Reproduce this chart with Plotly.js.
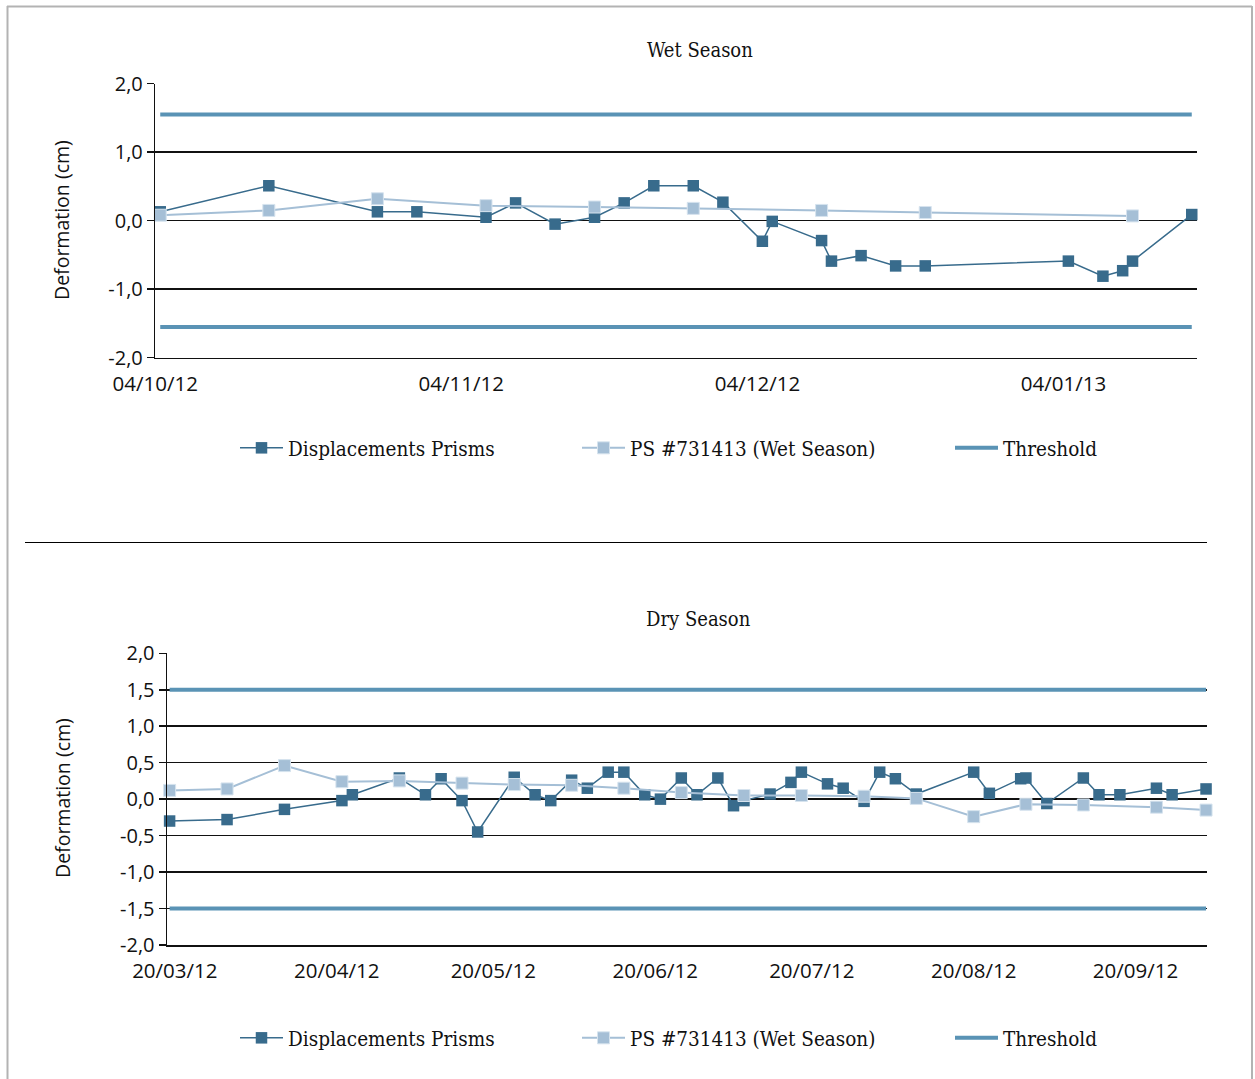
<!DOCTYPE html>
<html>
<head>
<meta charset="utf-8">
<script src="https://cdn.plot.ly/plotly-3.0.1.min.js"></script>
<style>
  html, body { margin: 0; padding: 0; background: #ffffff; }
  #chart { width: 1255px; height: 1079px; }
</style>
</head>
<body>
<div id="chart"></div>
<script>
// ---------------- DATA ----------------
const seriesNames = ['Displacements Prisms', 'PS #731413 (Wet Season)', 'Threshold'];
const chartTitles = ['Wet Season', 'Dry Season'];
const yTitle = 'Deformation (cm)';

// Wet season – Displacements Prisms
const wetPrismDates = ['2012-10-04 12:00', '2012-10-15 12:00', '2012-10-26 12:00', '2012-10-30 12:00',
  '2012-11-06 12:00', '2012-11-09 12:00', '2012-11-13 12:00', '2012-11-17 12:00', '2012-11-20 12:00',
  '2012-11-23 12:00', '2012-11-27 12:00', '2012-11-30 12:00', '2012-12-04 12:00', '2012-12-05 12:00',
  '2012-12-10 12:00', '2012-12-11 12:00', '2012-12-14 12:00', '2012-12-18', '2012-12-21',
  '2013-01-04 12:00', '2013-01-08', '2013-01-10', '2013-01-11', '2013-01-17'];
const wetPrismValues = [0.13, 0.51, 0.13, 0.13, 0.05, 0.26, -0.05, 0.05, 0.26, 0.51, 0.51, 0.27,
  -0.30, -0.01, -0.29, -0.59, -0.51, -0.66, -0.66, -0.59, -0.81, -0.73, -0.59, 0.09];

// Wet season – PS #731413
const wetPsDates = ['2012-10-04 12:00', '2012-10-15 12:00', '2012-10-26 12:00', '2012-11-06 12:00',
  '2012-11-17 12:00', '2012-11-27 12:00', '2012-12-10 12:00', '2012-12-21', '2013-01-11'];
const wetPsValues = [0.08, 0.15, 0.32, 0.22, 0.20, 0.18, 0.15, 0.12, 0.07];

const wetThreshold = 1.55;
const wetTickDates = ['2012-10-04', '2012-11-04', '2012-12-04', '2013-01-04'];
const wetTickLabels = ['04/10/12', '04/11/12', '04/12/12', '04/01/13'];
const wetRange = ['2012-10-04', '2013-01-17 12:00'];
const wetYTickValues = [-2, -1, 0, 1, 2];
const wetYTickLabels = ['-2,0', '-1,0', '0,0', '1,0', '2,0'];

// Dry season – Displacements Prisms
const dryPrismDates = ['2012-03-19', '2012-03-30', '2012-04-10', '2012-04-21', '2012-04-23', '2012-05-02',
  '2012-05-07', '2012-05-10', '2012-05-14', '2012-05-17', '2012-05-24', '2012-05-28', '2012-05-31',
  '2012-06-04', '2012-06-07', '2012-06-11', '2012-06-14', '2012-06-18', '2012-06-21', '2012-06-25',
  '2012-06-28', '2012-07-02', '2012-07-05', '2012-07-07', '2012-07-12', '2012-07-16', '2012-07-18',
  '2012-07-23', '2012-07-26', '2012-07-30', '2012-08-02', '2012-08-05', '2012-08-09', '2012-08-20',
  '2012-08-23', '2012-08-29', '2012-08-30', '2012-09-03', '2012-09-10', '2012-09-13', '2012-09-17',
  '2012-09-24', '2012-09-27', '2012-10-03 12:00'];
const dryPrismValues = [-0.30, -0.28, -0.14, -0.02, 0.06, 0.29, 0.06, 0.28, -0.02, -0.45, 0.30, 0.06,
  -0.02, 0.26, 0.15, 0.37, 0.37, 0.06, 0.00, 0.29, 0.06, 0.29, -0.09, -0.02, 0.07, 0.23, 0.37, 0.21,
  0.15, -0.03, 0.37, 0.28, 0.07, 0.37, 0.08, 0.28, 0.29, -0.06, 0.29, 0.06, 0.06, 0.15, 0.06, 0.14];

// Dry season – PS #731413
const dryPsDates = ['2012-03-19', '2012-03-30', '2012-04-10', '2012-04-21', '2012-05-02', '2012-05-14',
  '2012-05-24', '2012-06-04', '2012-06-14', '2012-06-25', '2012-07-07', '2012-07-18', '2012-07-30',
  '2012-08-09', '2012-08-20', '2012-08-30', '2012-09-10', '2012-09-24', '2012-10-03 12:00'];
const dryPsValues = [0.12, 0.14, 0.46, 0.24, 0.25, 0.22, 0.20, 0.19, 0.15, 0.09, 0.05, 0.05, 0.04,
  0.01, -0.24, -0.07, -0.08, -0.11, -0.15];

const dryThreshold = 1.5;
const dryTickDates = ['2012-03-20', '2012-04-20', '2012-05-20', '2012-06-20', '2012-07-20', '2012-08-20', '2012-09-20'];
const dryTickLabels = ['20/03/12', '20/04/12', '20/05/12', '20/06/12', '20/07/12', '20/08/12', '20/09/12'];
const dryRange = ['2012-03-18 12:00', '2012-10-03 15:00'];
const dryYTickValues = [-2, -1.5, -1, -0.5, 0, 0.5, 1, 1.5, 2];
const dryYTickLabels = ['-2,0', '-1,5', '-1,0', '-0,5', '0,0', '0,5', '1,0', '1,5', '2,0'];

// ---------------- STYLE ----------------
const W = 1255, H = 1079;
const px = v => v / W;
const py = v => 1 - v / H;

const DARK = '#386b8c';
const LIGHT = '#a5bfd6';
const THRESH = '#5a93b5';
const INK = '#111111';
const SANS = 'Open Sans, Noto Sans, sans-serif';
const SERIF = 'DejaVu Serif Condensed, DejaVu Serif, serif';

function thresholdTrace(dates, t, xa, ya, lg) {
  const a = dates[0], b = dates[dates.length - 1];
  return {
    x: [a, b, null, a, b], y: [t, t, null, -t, -t],
    xaxis: xa, yaxis: ya, legend: lg, name: seriesNames[2],
    mode: 'lines', line: { color: THRESH, width: 4 }, connectgaps: false,
    hoverinfo: 'skip', cliponaxis: false, legendwidth: 120
  };
}
function prismTrace(x, y, xa, ya, lg) {
  return {
    x: x, y: y, xaxis: xa, yaxis: ya, legend: lg, name: seriesNames[0],
    mode: 'lines+markers', line: { color: DARK, width: 1.5 },
    marker: { symbol: 'square', size: 11.5, color: DARK, line: { width: 0 } },
    cliponaxis: false, legendwidth: 284
  };
}
function psTrace(x, y, xa, ya, lg) {
  return {
    x: x, y: y, xaxis: xa, yaxis: ya, legend: lg, name: seriesNames[1],
    mode: 'lines+markers', line: { color: LIGHT, width: 2 },
    marker: { symbol: 'square', size: 12, color: LIGHT, line: { width: 1, color: '#d6e3ee' } },
    cliponaxis: false, legendwidth: 315
  };
}

const data = [
  prismTrace(wetPrismDates, wetPrismValues, 'x', 'y', 'legend'),
  psTrace(wetPsDates, wetPsValues, 'x', 'y', 'legend'),
  thresholdTrace(wetPrismDates, wetThreshold, 'x', 'y', 'legend'),
  prismTrace(dryPrismDates, dryPrismValues, 'x2', 'y2', 'legend2'),
  psTrace(dryPsDates, dryPsValues, 'x2', 'y2', 'legend2'),
  thresholdTrace(dryPrismDates, dryThreshold, 'x2', 'y2', 'legend2')
];

function xAxis(domain, range, tv, tt, anchor) {
  return {
    domain: domain, range: range, type: 'date', anchor: anchor,
    tickmode: 'array', tickvals: tv, ticktext: tt,
    ticks: 'outside', ticklen: 7, tickcolor: 'rgba(0,0,0,0)',
    showgrid: false, zeroline: false,
    showline: true, linecolor: INK, linewidth: 1.5,
    tickfont: { family: SANS, size: 20.5, color: INK },
    fixedrange: true
  };
}
function yAxis(domain, tv, tt, anchor) {
  return {
    domain: domain, range: [-2, 2], anchor: anchor,
    tickmode: 'array', tickvals: tv, ticktext: tt,
    ticks: 'outside', ticklen: 7, tickcolor: INK, tickwidth: 1.5,
    showgrid: true, gridcolor: INK, gridwidth: 1.5,
    zeroline: false, showline: true, linecolor: INK, linewidth: 1.5,
    tickfont: { family: SANS, size: 20, color: INK },
    ticklabelstandoff: 0,
    fixedrange: true
  };
}

const legendBase = {
  orientation: 'h', xanchor: 'left', yanchor: 'middle',
  font: { family: SERIF, size: 20.5, color: INK },
  bgcolor: 'rgba(0,0,0,0)', borderwidth: 0, traceorder: 'normal',
  itemwidth: 43
};

const layout = {
  width: W, height: H,
  margin: { l: 0, r: 0, t: 0, b: 0, pad: 0 },
  paper_bgcolor: '#ffffff', plot_bgcolor: '#ffffff',
  separators: ',.',
  showlegend: true,
  xaxis: xAxis([px(155.3), px(1196.7)], wetRange, wetTickDates, wetTickLabels, 'y'),
  yaxis: yAxis([py(357.7), py(83.7)], wetYTickValues, wetYTickLabels, 'x'),
  xaxis2: xAxis([px(167), px(1206.7)], dryRange, dryTickDates, dryTickLabels, 'y2'),
  yaxis2: yAxis([py(945), py(653.3)], dryYTickValues, dryYTickLabels, 'x2'),
  legend: Object.assign({}, legendBase, { x: px(235), y: py(448) }),
  legend2: Object.assign({}, legendBase, { x: px(235), y: py(1038) }),
  annotations: [
    { text: chartTitles[0], xref: 'paper', yref: 'paper', x: px(700), y: py(50), showarrow: false,
      xanchor: 'center', yanchor: 'middle', font: { family: SERIF, size: 20, color: INK } },
    { text: chartTitles[1], xref: 'paper', yref: 'paper', x: px(698), y: py(619), showarrow: false,
      xanchor: 'center', yanchor: 'middle', font: { family: SERIF, size: 20, color: INK } },
    { text: yTitle, xref: 'paper', yref: 'paper', x: px(62), y: py(220), showarrow: false, textangle: -90,
      xanchor: 'center', yanchor: 'middle', font: { family: SANS, size: 19.5, color: INK } },
    { text: yTitle, xref: 'paper', yref: 'paper', x: px(62), y: py(798), showarrow: false, textangle: -90,
      xanchor: 'center', yanchor: 'middle', font: { family: SANS, size: 19.5, color: INK } }
  ],
  shapes: [
    // outer frame (top, left, right)
    { type: 'line', xref: 'paper', yref: 'paper', x0: px(7), x1: px(1252), y0: py(6.5), y1: py(6.5), line: { color: '#b3b3b3', width: 2 } },
    { type: 'line', xref: 'paper', yref: 'paper', x0: px(7.5), x1: px(7.5), y0: py(6), y1: py(1085), line: { color: '#b3b3b3', width: 2 } },
    { type: 'line', xref: 'paper', yref: 'paper', x0: px(1252), x1: px(1252), y0: py(6), y1: py(1085), line: { color: '#b3b3b3', width: 2 } },
    // separator between the two charts
    { type: 'line', xref: 'paper', yref: 'paper', x0: px(25), x1: px(1207), y0: py(542.5), y1: py(542.5), line: { color: '#000000', width: 1 } }
  ]
};

Plotly.newPlot('chart', data, layout, { displayModeBar: false, staticPlot: true });
</script>
</body>
</html>
